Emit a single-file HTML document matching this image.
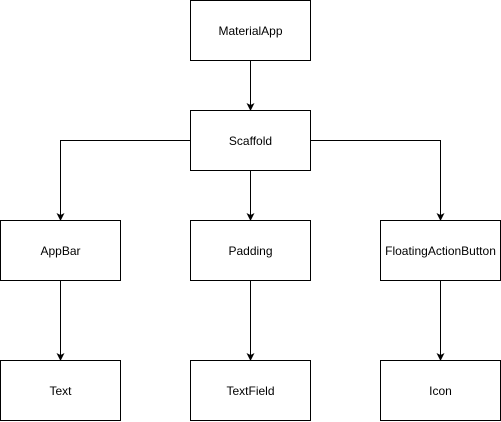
<!DOCTYPE html>
<html><head><meta charset="utf-8"><style>
html,body{margin:0;padding:0;background:#fff;width:501px;height:422px;overflow:hidden}
</style></head><body>
<svg width="501" height="422" xmlns="http://www.w3.org/2000/svg" font-family="Liberation Sans, Helvetica, sans-serif" font-size="12">
<defs><marker id="a" markerWidth="8" markerHeight="8" refX="7" refY="4" orient="auto" markerUnits="userSpaceOnUse"><path d="M0,0 L8,4 L0,8 L2,4 z" fill="#000"/></marker></defs>
<g fill="#fff" stroke="#000" stroke-width="1">
<rect x="190.5" y="0.5" width="120" height="60"/>
<rect x="190.5" y="110.5" width="120" height="60"/>
<rect x="0.5" y="220.5" width="120" height="60"/>
<rect x="190.5" y="220.5" width="120" height="60"/>
<rect x="380.5" y="220.5" width="120" height="60"/>
<rect x="0.5" y="360.5" width="120" height="60"/>
<rect x="190.5" y="360.5" width="120" height="60"/>
<rect x="380.5" y="360.5" width="120" height="60"/>
</g>
<g fill="none" stroke="#000" stroke-width="1" marker-end="url(#a)">
<path d="M250.5 60.5 V110"/>
<path d="M190.5 140.5 H60.5 V220"/>
<path d="M250.5 170.5 V220"/>
<path d="M310.5 140.5 H440.5 V220"/>
<path d="M60.5 280.5 V360"/>
<path d="M250.5 280.5 V360"/>
<path d="M440.5 280.5 V360"/>
</g>
<g text-anchor="middle" fill="#000">
<text x="250.5" y="35">MaterialApp</text>
<text x="250.5" y="145">Scaffold</text>
<text x="60.5" y="255">AppBar</text>
<text x="250.5" y="255">Padding</text>
<text x="440.5" y="255">FloatingActionButton</text>
<text x="60.5" y="395">Text</text>
<text x="250.5" y="395">TextField</text>
<text x="440.5" y="395">Icon</text>
</g>
</svg>
</body></html>
